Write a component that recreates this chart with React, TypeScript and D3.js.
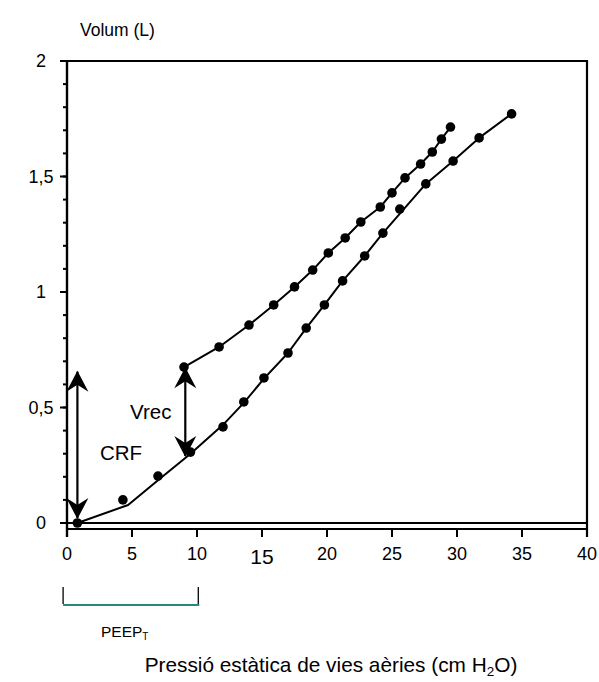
import React from "react";
import * as d3 from "d3";

// Data
const inflationPoints: [number, number][] = [
  [0.8, 0], [4.3, 0.1], [7.0, 0.203], [9.5, 0.307], [12.0, 0.416], [13.6, 0.524],
  [15.15, 0.628], [17.0, 0.736], [18.4, 0.844], [19.8, 0.944], [21.2, 1.048],
  [22.9, 1.156], [24.3, 1.255], [25.6, 1.359], [27.6, 1.468], [29.7, 1.567],
  [31.7, 1.667], [34.2, 1.771],
];
const inflationFit: [number, number][] = [
  [0.8, 0], [4.7, 0.078], [7.0, 0.185], [9.5, 0.3], [12.0, 0.425], [13.6, 0.52],
  [15.15, 0.625], [17.0, 0.736], [18.4, 0.844], [19.8, 0.944], [21.2, 1.048],
  [22.9, 1.156], [24.3, 1.255], [27.6, 1.468], [29.7, 1.567], [31.7, 1.667], [34.2, 1.771],
];
const deflationPoints: [number, number][] = [
  [9.0, 0.675], [11.7, 0.762], [14.0, 0.857], [15.9, 0.944], [17.5, 1.022],
  [18.9, 1.095], [20.1, 1.169], [21.4, 1.234], [22.6, 1.303], [24.1, 1.368],
  [25.0, 1.429], [26.0, 1.494], [27.2, 1.554], [28.1, 1.606], [28.8, 1.662], [29.5, 1.714],
];
const xTicks = [0, 5, 10, 15, 20, 25, 30, 35, 40];
const yMajorTicks = [0, 0.5, 1, 1.5, 2];
const yMinorTicks = d3.range(0, 21).map((d) => d / 10);
const yTickLabels = ["0", "0,5", "1", "1,5", "2"];
const crfArrow = { x: 0.8, y0: 0.0, y1: 0.655 };
const vrecArrow = { x: 9.1, y0: 0.29, y1: 0.67 };
const peepRange = [-0.3, 10.1];

const FONT = "'Liberation Sans', Arial, sans-serif";

export default function App() {
  const x = d3.scaleLinear().domain([0, 40]).range([67, 587]);
  const y = d3.scaleLinear().domain([0, 2]).range([523, 61]);
  const axisY = y(0) + 6;
  const line = d3.line<[number, number]>().x((d) => x(d[0])).y((d) => y(d[1])).curve(d3.curveLinear);

  return (
    <svg width={599} height={682} style={{ position: "absolute", left: 0, top: 0, background: "#fff" }} fontFamily={FONT}>
      <defs>
        <marker id="ah" viewBox="-22 -12 24 24" refX={0} refY={0} markerWidth={24} markerHeight={24} markerUnits="userSpaceOnUse" orient="auto-start-reverse">
          <path d="M1,0 L-20,-11 L-13,0 L-20,11 Z" fill="#000" />
        </marker>
      </defs>
      {/* frame */}
      <line x1={x(0) - 7} x2={x(40)} y1={y(2)} y2={y(2)} stroke="#000" strokeWidth={2.2} />
      <line x1={x(40)} x2={x(40)} y1={y(2) - 1} y2={axisY + 8} stroke="#000" strokeWidth={2.2} />
      <line x1={x(0) - 7} x2={x(40)} y1={y(0)} y2={y(0)} stroke="#000" strokeWidth={2.2} />
      <line x1={x(0)} x2={x(40)} y1={axisY} y2={axisY} stroke="#000" strokeWidth={2.2} />
      <line x1={x(0)} x2={x(0)} y1={y(2)} y2={axisY + 8} stroke="#000" strokeWidth={2.4} />
      {/* y ticks */}
      {yMinorTicks.map((t) => (
        <line key={"m" + t} x1={x(0) - 4} x2={x(0)} y1={y(t)} y2={y(t)} stroke="#000" strokeWidth={2} />
      ))}
      {yMajorTicks.map((t) => (
        <line key={"M" + t} x1={x(0) - 7} x2={x(0)} y1={y(t)} y2={y(t)} stroke="#000" strokeWidth={2} />
      ))}
      {yMajorTicks.map((t, i) => (
        <text key={"yl" + t} x={41} y={y(t)} dy="0.35em" textAnchor="middle" fontSize={18}>{yTickLabels[i]}</text>
      ))}
      {/* x ticks */}
      {xTicks.map((t) => (
        <g key={"x" + t}>
          <line x1={x(t)} x2={x(t)} y1={axisY} y2={axisY + 8} stroke="#000" strokeWidth={2} />
          <text x={x(t)} y={t === 15 ? 557 : 554} dy="0.35em" textAnchor="middle" fontSize={t === 15 ? 21 : 18}>{t}</text>
        </g>
      ))}
      <text x={80} y={30} dy="0.35em" fontSize={17.5}>Volum (L)</text>
      {/* curves */}
      <path d={line(inflationFit) || ""} fill="none" stroke="#000" strokeWidth={2} strokeLinejoin="round" />
      <path d={line(deflationPoints) || ""} fill="none" stroke="#000" strokeWidth={2} strokeLinejoin="round" />
      {inflationPoints.map((d, i) => (
        <circle key={"i" + i} cx={x(d[0])} cy={y(d[1])} r={4.8} fill="#000" />
      ))}
      {deflationPoints.map((d, i) => (
        <circle key={"d" + i} cx={x(d[0])} cy={y(d[1])} r={4.8} fill="#000" />
      ))}
      {/* arrows */}
      <line x1={x(crfArrow.x)} x2={x(crfArrow.x)} y1={y(crfArrow.y0) - 5} y2={y(crfArrow.y1)} stroke="#000" strokeWidth={2.2} markerStart="url(#ah)" markerEnd="url(#ah)" />
      <line x1={x(vrecArrow.x)} x2={x(vrecArrow.x)} y1={y(vrecArrow.y0)} y2={y(vrecArrow.y1)} stroke="#000" strokeWidth={2.2} markerStart="url(#ah)" markerEnd="url(#ah)" />
      <text x={130} y={412} dy="0.35em" fontSize={20.5}>Vrec</text>
      <text x={100} y={453} dy="0.35em" fontSize={20.5}>CRF</text>
      {/* PEEP bracket */}
      <line x1={x(peepRange[0])} x2={x(peepRange[0])} y1={587} y2={604} stroke="#000" strokeWidth={1.3} />
      <line x1={x(peepRange[1])} x2={x(peepRange[1])} y1={587} y2={604} stroke="#000" strokeWidth={1.3} />
      <line x1={x(peepRange[0])} x2={x(peepRange[1]) + 1} y1={605} y2={605} stroke="#2a8585" strokeWidth={2} />
      <text x={101} y={632} dy="0.35em" fontSize={15.5}>PEEP<tspan fontSize={10} dy="3">T</tspan></text>
      <text x={331} y={665} dy="0.35em" textAnchor="middle" fontSize={20.8}>
        Pressió estàtica de vies aèries (cm H<tspan fontSize={13.5} dy="4">2</tspan><tspan dy="-4">O)</tspan>
      </text>
    </svg>
  );
}
